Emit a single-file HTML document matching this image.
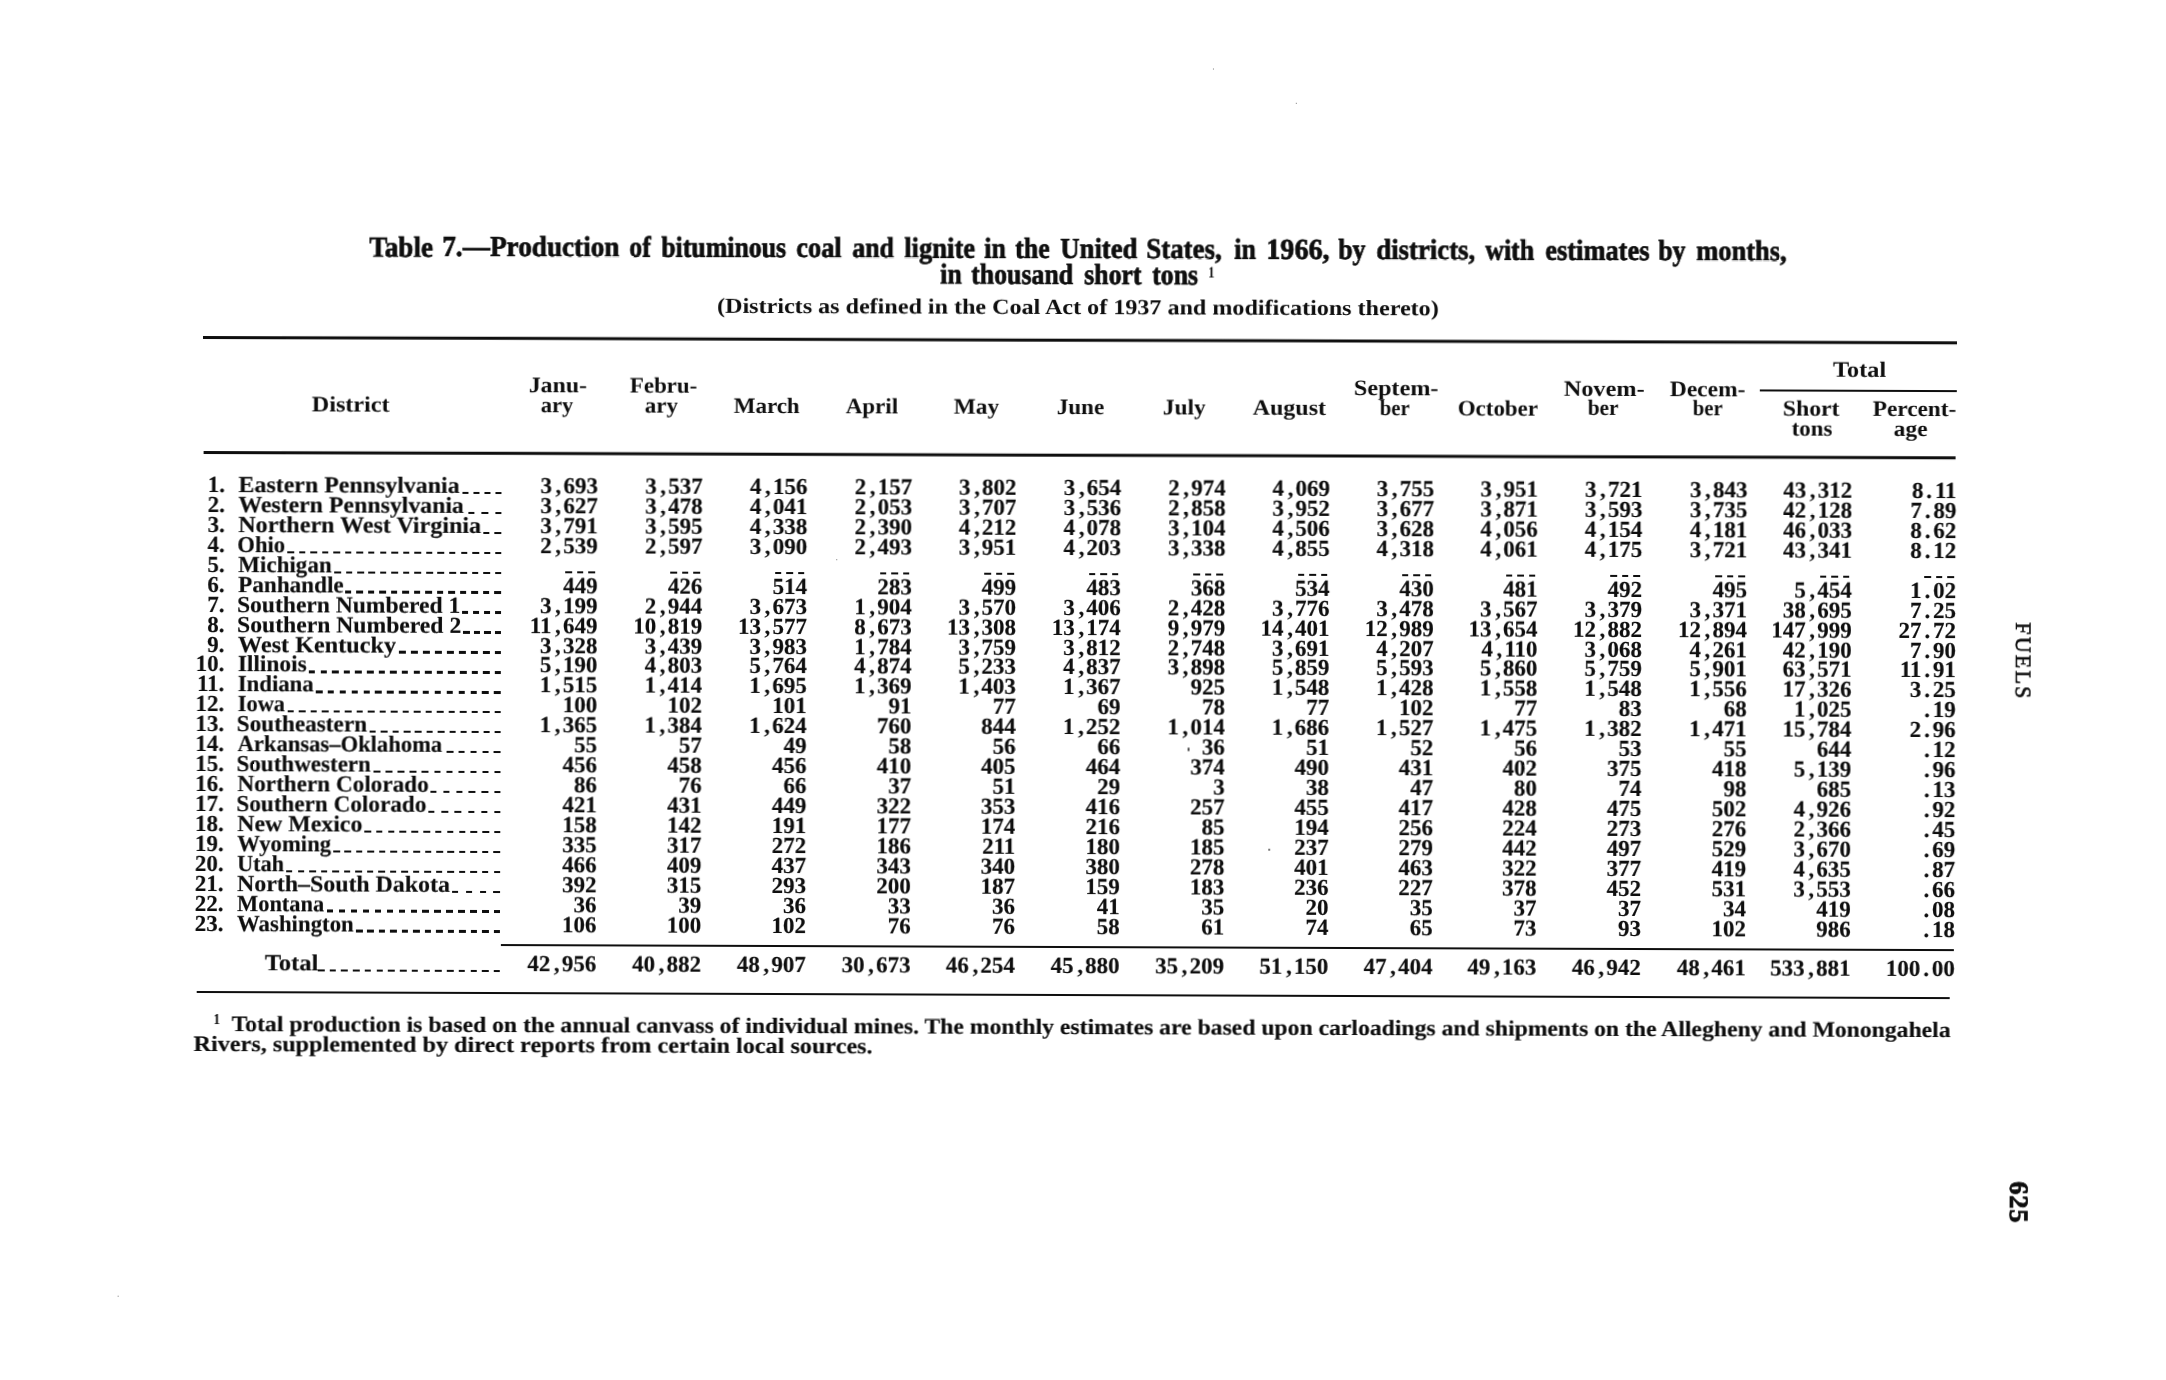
<!DOCTYPE html>
<html lang="en"><head><meta charset="utf-8">
<title>Table 7 - Production of bituminous coal and lignite, 1966</title>
<style>
html,body{margin:0;padding:0;background:#fff;}
body{width:2166px;height:1380px;overflow:hidden;position:relative;font-family:"Liberation Serif",serif;color:#0e0e0e;text-rendering:geometricPrecision;}
#pg{position:absolute;left:0;top:0;width:2166px;height:1380px;transform-origin:203px 338px;transform:rotate(0.2deg);will-change:transform;}
.t{position:absolute;white-space:pre;line-height:1;}
.t i{font-style:normal;display:inline-block;width:11.5px;letter-spacing:0;}
.t i.c{text-align:center;padding-left:1.4px;box-sizing:border-box;}
.t i.p{text-align:center;}
.t i.d{height:2.8px;width:6.5px;margin:0 2.50px;background:#0e0e0e;vertical-align:-.03em;}
.ttl{font-weight:700;-webkit-text-stroke:.7px #0e0e0e;}
.bd,.num{font-weight:700;-webkit-text-stroke:.15px #0e0e0e;}
.num{letter-spacing:0.000px;}
.hd{font-weight:700;}
.sub{-webkit-text-stroke:.75px #0e0e0e;}
.sup{}
.ft{font-weight:700;-webkit-text-stroke:.15px #0e0e0e;}
.r{position:absolute;background:#0e0e0e;}
.ld{position:absolute;height:2.4px;}
.v{position:absolute;white-space:pre;line-height:1;transform-origin:0 0;}
</style></head><body>
<div id="pg">
<div class="r" style="left:202.5px;top:336.40px;width:1753.5px;height:2.6px;transform-origin:0 50%;transform:rotate(-0.025deg)"></div>
<div class="r" style="left:203.6px;top:451.30px;width:1752.4px;height:2.6px;transform-origin:0 50%;transform:rotate(-0.025deg)"></div>
<div class="r" style="left:1760.0px;top:383.75px;width:197.0px;height:1.7px;transform-origin:0 50%;transform:rotate(-0.025deg)"></div>
<div class="r" style="left:503.0px;top:943.00px;width:1453.0px;height:2.0px"></div>
<div class="r" style="left:198.6px;top:990.50px;width:1753.0px;height:2.6px"></div>
<div class="ld" style="left:462.70px;top:490.75px;width:39.50px;background:repeating-linear-gradient(to right,#0e0e0e 0,#0e0e0e 6.5px,transparent 6.5px,transparent 11.000px)"></div>
<div class="ld" style="left:468.90px;top:510.69px;width:33.30px;background:repeating-linear-gradient(to right,#0e0e0e 0,#0e0e0e 6.5px,transparent 6.5px,transparent 13.400px)"></div>
<div class="ld" style="left:484.30px;top:530.63px;width:17.90px;background:repeating-linear-gradient(to right,#0e0e0e 0,#0e0e0e 6.5px,transparent 6.5px,transparent 11.400px)"></div>
<div class="ld" style="left:287.50px;top:550.57px;width:214.70px;background:repeating-linear-gradient(to right,#0e0e0e 0,#0e0e0e 6.5px,transparent 6.5px,transparent 11.567px)"></div>
<div class="ld" style="left:334.70px;top:570.51px;width:167.50px;background:repeating-linear-gradient(to right,#0e0e0e 0,#0e0e0e 6.5px,transparent 6.5px,transparent 11.500px)"></div>
<div class="ld" style="left:346.40px;top:590.45px;width:155.80px;background:repeating-linear-gradient(to right,#0e0e0e 0,#0e0e0e 6.5px,transparent 6.5px,transparent 11.485px)"></div>
<div class="ld" style="left:462.70px;top:610.39px;width:39.50px;background:repeating-linear-gradient(to right,#0e0e0e 0,#0e0e0e 6.5px,transparent 6.5px,transparent 11.000px)"></div>
<div class="ld" style="left:463.70px;top:630.33px;width:38.50px;background:repeating-linear-gradient(to right,#0e0e0e 0,#0e0e0e 6.5px,transparent 6.5px,transparent 10.667px)"></div>
<div class="ld" style="left:399.60px;top:650.27px;width:102.60px;background:repeating-linear-gradient(to right,#0e0e0e 0,#0e0e0e 6.5px,transparent 6.5px,transparent 12.012px)"></div>
<div class="ld" style="left:309.80px;top:670.21px;width:192.40px;background:repeating-linear-gradient(to right,#0e0e0e 0,#0e0e0e 6.5px,transparent 6.5px,transparent 11.619px)"></div>
<div class="ld" style="left:317.40px;top:690.15px;width:184.80px;background:repeating-linear-gradient(to right,#0e0e0e 0,#0e0e0e 6.5px,transparent 6.5px,transparent 11.887px)"></div>
<div class="ld" style="left:288.80px;top:710.09px;width:213.40px;background:repeating-linear-gradient(to right,#0e0e0e 0,#0e0e0e 6.5px,transparent 6.5px,transparent 11.494px)"></div>
<div class="ld" style="left:370.60px;top:730.03px;width:131.60px;background:repeating-linear-gradient(to right,#0e0e0e 0,#0e0e0e 6.5px,transparent 6.5px,transparent 11.373px)"></div>
<div class="ld" style="left:448.30px;top:749.97px;width:53.90px;background:repeating-linear-gradient(to right,#0e0e0e 0,#0e0e0e 6.5px,transparent 6.5px,transparent 11.850px)"></div>
<div class="ld" style="left:374.60px;top:769.91px;width:127.60px;background:repeating-linear-gradient(to right,#0e0e0e 0,#0e0e0e 6.5px,transparent 6.5px,transparent 12.110px)"></div>
<div class="ld" style="left:431.80px;top:789.85px;width:70.40px;background:repeating-linear-gradient(to right,#0e0e0e 0,#0e0e0e 6.5px,transparent 6.5px,transparent 12.780px)"></div>
<div class="ld" style="left:429.50px;top:809.79px;width:72.70px;background:repeating-linear-gradient(to right,#0e0e0e 0,#0e0e0e 6.5px,transparent 6.5px,transparent 13.240px)"></div>
<div class="ld" style="left:365.60px;top:829.73px;width:136.60px;background:repeating-linear-gradient(to right,#0e0e0e 0,#0e0e0e 6.5px,transparent 6.5px,transparent 11.827px)"></div>
<div class="ld" style="left:335.40px;top:849.67px;width:166.80px;background:repeating-linear-gradient(to right,#0e0e0e 0,#0e0e0e 6.5px,transparent 6.5px,transparent 11.450px)"></div>
<div class="ld" style="left:288.20px;top:869.61px;width:214.00px;background:repeating-linear-gradient(to right,#0e0e0e 0,#0e0e0e 6.5px,transparent 6.5px,transparent 11.528px)"></div>
<div class="ld" style="left:454.40px;top:889.55px;width:47.80px;background:repeating-linear-gradient(to right,#0e0e0e 0,#0e0e0e 6.5px,transparent 6.5px,transparent 13.767px)"></div>
<div class="ld" style="left:328.70px;top:909.49px;width:173.50px;background:repeating-linear-gradient(to right,#0e0e0e 0,#0e0e0e 6.5px,transparent 6.5px,transparent 11.929px)"></div>
<div class="ld" style="left:358.00px;top:929.43px;width:144.20px;background:repeating-linear-gradient(to right,#0e0e0e 0,#0e0e0e 6.5px,transparent 6.5px,transparent 11.475px)"></div>
<div class="ld" style="left:319.60px;top:969.10px;width:182.60px;background:repeating-linear-gradient(to right,#0e0e0e 0,#0e0e0e 6.5px,transparent 6.5px,transparent 11.740px)"></div>
<span class="t ttl" style="font-size:29.0px;top:232.53px;font-weight:700;left:369.30px;transform:scaleX(0.9332);transform-origin:0 0">Table</span>
<span class="t ttl" style="font-size:29.0px;top:232.49px;font-weight:700;left:442.16px;transform:scaleX(0.9390);transform-origin:0 0">7.—Production</span>
<span class="t ttl" style="font-size:29.0px;top:232.40px;font-weight:700;left:629.00px;transform:scaleX(0.8900);transform-origin:0 0">of</span>
<span class="t ttl" style="font-size:29.0px;top:232.38px;font-weight:700;left:660.83px;transform:scaleX(0.8900);transform-origin:0 0">bituminous</span>
<span class="t ttl" style="font-size:29.0px;top:232.32px;font-weight:700;left:795.50px;transform:scaleX(0.9103);transform-origin:0 0">coal</span>
<span class="t ttl" style="font-size:29.0px;top:232.29px;font-weight:700;left:852.30px;transform:scaleX(0.8900);transform-origin:0 0">and</span>
<span class="t ttl" style="font-size:29.0px;top:232.26px;font-weight:700;left:904.10px;transform:scaleX(0.9153);transform-origin:0 0">lignite</span>
<span class="t ttl" style="font-size:29.0px;top:232.22px;font-weight:700;left:983.69px;transform:scaleX(0.8900);transform-origin:0 0">in</span>
<span class="t ttl" style="font-size:29.0px;top:232.21px;font-weight:700;left:1014.84px;transform:scaleX(0.8900);transform-origin:0 0">the</span>
<span class="t ttl" style="font-size:29.0px;top:232.18px;font-weight:700;left:1059.70px;transform:scaleX(0.9216);transform-origin:0 0">United</span>
<span class="t ttl" style="font-size:29.0px;top:232.14px;font-weight:700;left:1145.87px;transform:scaleX(0.9263);transform-origin:0 0">States,</span>
<span class="t ttl" style="font-size:29.0px;top:232.10px;font-weight:700;left:1234.49px;transform:scaleX(0.8900);transform-origin:0 0">in</span>
<span class="t ttl" style="font-size:29.0px;top:232.08px;font-weight:700;left:1265.86px;transform:scaleX(0.9700);transform-origin:0 0">1966,</span>
<span class="t ttl" style="font-size:29.0px;top:232.04px;font-weight:700;left:1338.05px;transform:scaleX(0.8900);transform-origin:0 0">by</span>
<span class="t ttl" style="font-size:29.0px;top:232.03px;font-weight:700;left:1375.68px;transform:scaleX(0.9238);transform-origin:0 0">districts,</span>
<span class="t ttl" style="font-size:29.0px;top:231.97px;font-weight:700;left:1484.88px;transform:scaleX(0.8900);transform-origin:0 0">with</span>
<span class="t ttl" style="font-size:29.0px;top:231.94px;font-weight:700;left:1544.50px;transform:scaleX(0.9109);transform-origin:0 0">estimates</span>
<span class="t ttl" style="font-size:29.0px;top:231.88px;font-weight:700;left:1658.00px;transform:scaleX(0.8900);transform-origin:0 0">by</span>
<span class="t ttl" style="font-size:29.0px;top:231.87px;font-weight:700;left:1696.10px;transform:scaleX(0.9124);transform-origin:0 0">months,</span>
<span class="t ttl" style="font-size:29.0px;top:258.44px;font-weight:700;left:939.64px;transform:scaleX(0.8900);transform-origin:0 0">in</span>
<span class="t ttl" style="font-size:29.0px;top:258.43px;font-weight:700;left:970.87px;transform:scaleX(0.8900);transform-origin:0 0">thousand</span>
<span class="t ttl" style="font-size:29.0px;top:258.37px;font-weight:700;left:1083.57px;transform:scaleX(0.8900);transform-origin:0 0">short</span>
<span class="t ttl" style="font-size:29.0px;top:258.34px;font-weight:700;left:1152.18px;transform:scaleX(0.8900);transform-origin:0 0">tons</span>
<span class="t sup" style="font-size:16px;top:262.10px;font-weight:700;left:1207.81px;transform:scaleX(0.7857);transform-origin:0 0">1</span>
<span class="t hd" style="font-size:21.5px;top:293.64px;left:717.00px;transform:scaleX(1.1207);transform-origin:0 0">(Districts as defined in the Coal Act of 1937 and modifications thereto)</span>
<span class="t hd" style="font-size:22.0px;top:393.12px;left:311.60px;transform:scaleX(1.0975);transform-origin:0 0">District</span>
<span class="t hd" style="font-size:22.0px;top:373.21px;left:528.60px;transform:scaleX(1.0791);transform-origin:0 0">Janu-</span>
<span class="t hd" style="font-size:22.0px;top:393.01px;left:541.00px;transform:scaleX(1.0200);transform-origin:0 0">ary</span>
<span class="t hd" style="font-size:22.0px;top:373.16px;left:630.00px;transform:scaleX(1.0398);transform-origin:0 0">Febru-</span>
<span class="t hd" style="font-size:22.0px;top:392.95px;left:645.40px;transform:scaleX(1.0452);transform-origin:0 0">ary</span>
<span class="t hd" style="font-size:22.0px;top:392.91px;left:734.00px;transform:scaleX(1.0430);transform-origin:0 0">March</span>
<span class="t hd" style="font-size:22.0px;top:392.85px;left:846.20px;transform:scaleX(1.0440);transform-origin:0 0">April</span>
<span class="t hd" style="font-size:22.0px;top:392.80px;left:954.20px;transform:scaleX(1.0593);transform-origin:0 0">May</span>
<span class="t hd" style="font-size:22.0px;top:392.75px;left:1057.20px;transform:scaleX(1.0468);transform-origin:0 0">June</span>
<span class="t hd" style="font-size:22.0px;top:392.69px;left:1163.10px;transform:scaleX(1.0633);transform-origin:0 0">July</span>
<span class="t hd" style="font-size:22.0px;top:392.65px;left:1253.10px;transform:scaleX(1.0880);transform-origin:0 0">August</span>
<span class="t hd" style="font-size:22.0px;top:372.80px;left:1353.60px;transform:scaleX(1.0984);transform-origin:0 0">Septem-</span>
<span class="t hd" style="font-size:22.0px;top:392.59px;left:1380.00px;transform:scaleX(0.9375);transform-origin:0 0">ber</span>
<span class="t hd" style="font-size:22.0px;top:392.55px;left:1457.56px;transform:scaleX(1.0420);transform-origin:0 0">October</span>
<span class="t hd" style="font-size:22.0px;top:372.69px;left:1563.80px;transform:scaleX(1.1017);transform-origin:0 0">Novem-</span>
<span class="t hd" style="font-size:22.0px;top:392.48px;left:1587.90px;transform:scaleX(0.9656);transform-origin:0 0">ber</span>
<span class="t hd" style="font-size:22.0px;top:372.64px;left:1669.60px;transform:scaleX(1.0665);transform-origin:0 0">Decem-</span>
<span class="t hd" style="font-size:22.0px;top:392.43px;left:1693.00px;transform:scaleX(0.9375);transform-origin:0 0">ber</span>
<span class="t hd" style="font-size:22.0px;top:353.36px;left:1832.50px;transform:scaleX(1.1067);transform-origin:0 0">Total</span>
<span class="t hd" style="font-size:22.0px;top:392.38px;left:1782.92px;transform:scaleX(1.0797);transform-origin:0 0">Short</span>
<span class="t hd" style="font-size:22.0px;top:412.18px;left:1792.40px;transform:scaleX(1.0389);transform-origin:0 0">tons</span>
<span class="t hd" style="font-size:22.0px;top:392.34px;left:1872.70px;transform:scaleX(1.0564);transform-origin:0 0">Percent-</span>
<span class="t hd" style="font-size:22.0px;top:412.13px;left:1894.00px;transform:scaleX(1.0625);transform-origin:0 0">age</span>
<span class="t num" style="font-size:23.0px;top:472.99px;right:1940.40px">1.</span>
<span class="t bd" style="font-size:23.0px;top:472.99px;left:239.20px;transform:scaleX(1.0395);transform-origin:0 0">Eastern Pennsylvania</span>
<span class="t num" style="font-size:23.0px;top:472.99px;right:1567.60px">3<i class="c">,</i>693</span>
<span class="t num" style="font-size:23.0px;top:472.99px;right:1462.80px">3<i class="c">,</i>537</span>
<span class="t num" style="font-size:23.0px;top:472.99px;right:1358.10px">4<i class="c">,</i>156</span>
<span class="t num" style="font-size:23.0px;top:472.99px;right:1253.30px">2<i class="c">,</i>157</span>
<span class="t num" style="font-size:23.0px;top:472.99px;right:1148.90px">3<i class="c">,</i>802</span>
<span class="t num" style="font-size:23.0px;top:472.99px;right:1044.20px">3<i class="c">,</i>654</span>
<span class="t num" style="font-size:23.0px;top:472.99px;right:939.80px">2<i class="c">,</i>974</span>
<span class="t num" style="font-size:23.0px;top:472.99px;right:835.40px">4<i class="c">,</i>069</span>
<span class="t num" style="font-size:23.0px;top:472.99px;right:731.30px">3<i class="c">,</i>755</span>
<span class="t num" style="font-size:23.0px;top:472.99px;right:627.40px">3<i class="c">,</i>951</span>
<span class="t num" style="font-size:23.0px;top:472.99px;right:523.00px">3<i class="c">,</i>721</span>
<span class="t num" style="font-size:23.0px;top:472.99px;right:418.00px">3<i class="c">,</i>843</span>
<span class="t num" style="font-size:23.0px;top:472.99px;right:313.30px">43<i class="c">,</i>312</span>
<span class="t num" style="font-size:23.0px;top:472.99px;right:208.90px">8<i class="p">.</i>11</span>
<span class="t num" style="font-size:23.0px;top:492.93px;right:1940.40px">2.</span>
<span class="t bd" style="font-size:23.0px;top:492.93px;left:239.20px;transform:scaleX(1.0349);transform-origin:0 0">Western Pennsylvania</span>
<span class="t num" style="font-size:23.0px;top:492.93px;right:1567.60px">3<i class="c">,</i>627</span>
<span class="t num" style="font-size:23.0px;top:492.93px;right:1462.80px">3<i class="c">,</i>478</span>
<span class="t num" style="font-size:23.0px;top:492.93px;right:1358.10px">4<i class="c">,</i>041</span>
<span class="t num" style="font-size:23.0px;top:492.93px;right:1253.30px">2<i class="c">,</i>053</span>
<span class="t num" style="font-size:23.0px;top:492.93px;right:1148.90px">3<i class="c">,</i>707</span>
<span class="t num" style="font-size:23.0px;top:492.93px;right:1044.20px">3<i class="c">,</i>536</span>
<span class="t num" style="font-size:23.0px;top:492.93px;right:939.80px">2<i class="c">,</i>858</span>
<span class="t num" style="font-size:23.0px;top:492.93px;right:835.40px">3<i class="c">,</i>952</span>
<span class="t num" style="font-size:23.0px;top:492.93px;right:731.30px">3<i class="c">,</i>677</span>
<span class="t num" style="font-size:23.0px;top:492.93px;right:627.40px">3<i class="c">,</i>871</span>
<span class="t num" style="font-size:23.0px;top:492.93px;right:523.00px">3<i class="c">,</i>593</span>
<span class="t num" style="font-size:23.0px;top:492.93px;right:418.00px">3<i class="c">,</i>735</span>
<span class="t num" style="font-size:23.0px;top:492.93px;right:313.30px">42<i class="c">,</i>128</span>
<span class="t num" style="font-size:23.0px;top:492.93px;right:208.90px">7<i class="p">.</i>89</span>
<span class="t num" style="font-size:23.0px;top:512.87px;right:1940.40px">3.</span>
<span class="t bd" style="font-size:23.0px;top:512.87px;left:239.20px;transform:scaleX(1.0459);transform-origin:0 0">Northern West Virginia</span>
<span class="t num" style="font-size:23.0px;top:512.87px;right:1567.60px">3<i class="c">,</i>791</span>
<span class="t num" style="font-size:23.0px;top:512.87px;right:1462.80px">3<i class="c">,</i>595</span>
<span class="t num" style="font-size:23.0px;top:512.87px;right:1358.10px">4<i class="c">,</i>338</span>
<span class="t num" style="font-size:23.0px;top:512.87px;right:1253.30px">2<i class="c">,</i>390</span>
<span class="t num" style="font-size:23.0px;top:512.87px;right:1148.90px">4<i class="c">,</i>212</span>
<span class="t num" style="font-size:23.0px;top:512.87px;right:1044.20px">4<i class="c">,</i>078</span>
<span class="t num" style="font-size:23.0px;top:512.87px;right:939.80px">3<i class="c">,</i>104</span>
<span class="t num" style="font-size:23.0px;top:512.87px;right:835.40px">4<i class="c">,</i>506</span>
<span class="t num" style="font-size:23.0px;top:512.87px;right:731.30px">3<i class="c">,</i>628</span>
<span class="t num" style="font-size:23.0px;top:512.87px;right:627.40px">4<i class="c">,</i>056</span>
<span class="t num" style="font-size:23.0px;top:512.87px;right:523.00px">4<i class="c">,</i>154</span>
<span class="t num" style="font-size:23.0px;top:512.87px;right:418.00px">4<i class="c">,</i>181</span>
<span class="t num" style="font-size:23.0px;top:512.87px;right:313.30px">46<i class="c">,</i>033</span>
<span class="t num" style="font-size:23.0px;top:512.87px;right:208.90px">8<i class="p">.</i>62</span>
<span class="t num" style="font-size:23.0px;top:532.81px;right:1940.40px">4.</span>
<span class="t bd" style="font-size:23.0px;top:532.81px;left:238.21px;transform:scaleX(0.9879);transform-origin:0 0">Ohio</span>
<span class="t num" style="font-size:23.0px;top:532.81px;right:1567.60px">2<i class="c">,</i>539</span>
<span class="t num" style="font-size:23.0px;top:532.81px;right:1462.80px">2<i class="c">,</i>597</span>
<span class="t num" style="font-size:23.0px;top:532.81px;right:1358.10px">3<i class="c">,</i>090</span>
<span class="t num" style="font-size:23.0px;top:532.81px;right:1253.30px">2<i class="c">,</i>493</span>
<span class="t num" style="font-size:23.0px;top:532.81px;right:1148.90px">3<i class="c">,</i>951</span>
<span class="t num" style="font-size:23.0px;top:532.81px;right:1044.20px">4<i class="c">,</i>203</span>
<span class="t num" style="font-size:23.0px;top:532.81px;right:939.80px">3<i class="c">,</i>338</span>
<span class="t num" style="font-size:23.0px;top:532.81px;right:835.40px">4<i class="c">,</i>855</span>
<span class="t num" style="font-size:23.0px;top:532.81px;right:731.30px">4<i class="c">,</i>318</span>
<span class="t num" style="font-size:23.0px;top:532.81px;right:627.40px">4<i class="c">,</i>061</span>
<span class="t num" style="font-size:23.0px;top:532.81px;right:523.00px">4<i class="c">,</i>175</span>
<span class="t num" style="font-size:23.0px;top:532.81px;right:418.00px">3<i class="c">,</i>721</span>
<span class="t num" style="font-size:23.0px;top:532.81px;right:313.30px">43<i class="c">,</i>341</span>
<span class="t num" style="font-size:23.0px;top:532.81px;right:208.90px">8<i class="p">.</i>12</span>
<span class="t num" style="font-size:23.0px;top:552.75px;right:1940.40px">5.</span>
<span class="t bd" style="font-size:23.0px;top:552.75px;left:239.20px;transform:scaleX(1.0023);transform-origin:0 0">Michigan</span>
<span class="t num" style="font-size:23.0px;top:552.75px;right:1567.60px"><i class="d"></i><i class="d"></i><i class="d"></i></span>
<span class="t num" style="font-size:23.0px;top:552.75px;right:1462.80px"><i class="d"></i><i class="d"></i><i class="d"></i></span>
<span class="t num" style="font-size:23.0px;top:552.75px;right:1358.10px"><i class="d"></i><i class="d"></i><i class="d"></i></span>
<span class="t num" style="font-size:23.0px;top:552.75px;right:1253.30px"><i class="d"></i><i class="d"></i><i class="d"></i></span>
<span class="t num" style="font-size:23.0px;top:552.75px;right:1148.90px"><i class="d"></i><i class="d"></i><i class="d"></i></span>
<span class="t num" style="font-size:23.0px;top:552.75px;right:1044.20px"><i class="d"></i><i class="d"></i><i class="d"></i></span>
<span class="t num" style="font-size:23.0px;top:552.75px;right:939.80px"><i class="d"></i><i class="d"></i><i class="d"></i></span>
<span class="t num" style="font-size:23.0px;top:552.75px;right:835.40px"><i class="d"></i><i class="d"></i><i class="d"></i></span>
<span class="t num" style="font-size:23.0px;top:552.75px;right:731.30px"><i class="d"></i><i class="d"></i><i class="d"></i></span>
<span class="t num" style="font-size:23.0px;top:552.75px;right:627.40px"><i class="d"></i><i class="d"></i><i class="d"></i></span>
<span class="t num" style="font-size:23.0px;top:552.75px;right:523.00px"><i class="d"></i><i class="d"></i><i class="d"></i></span>
<span class="t num" style="font-size:23.0px;top:552.75px;right:418.00px"><i class="d"></i><i class="d"></i><i class="d"></i></span>
<span class="t num" style="font-size:23.0px;top:552.75px;right:313.30px"><i class="d"></i><i class="d"></i><i class="d"></i></span>
<span class="t num" style="font-size:23.0px;top:552.75px;right:208.90px"><i class="d"></i><i class="d"></i><i class="d"></i></span>
<span class="t num" style="font-size:23.0px;top:572.69px;right:1940.40px">6.</span>
<span class="t bd" style="font-size:23.0px;top:572.69px;left:239.20px;transform:scaleX(1.0076);transform-origin:0 0">Panhandle</span>
<span class="t num" style="font-size:23.0px;top:572.69px;right:1567.60px">449</span>
<span class="t num" style="font-size:23.0px;top:572.69px;right:1462.80px">426</span>
<span class="t num" style="font-size:23.0px;top:572.69px;right:1358.10px">514</span>
<span class="t num" style="font-size:23.0px;top:572.69px;right:1253.30px">283</span>
<span class="t num" style="font-size:23.0px;top:572.69px;right:1148.90px">499</span>
<span class="t num" style="font-size:23.0px;top:572.69px;right:1044.20px">483</span>
<span class="t num" style="font-size:23.0px;top:572.69px;right:939.80px">368</span>
<span class="t num" style="font-size:23.0px;top:572.69px;right:835.40px">534</span>
<span class="t num" style="font-size:23.0px;top:572.69px;right:731.30px">430</span>
<span class="t num" style="font-size:23.0px;top:572.69px;right:627.40px">481</span>
<span class="t num" style="font-size:23.0px;top:572.69px;right:523.00px">492</span>
<span class="t num" style="font-size:23.0px;top:572.69px;right:418.00px">495</span>
<span class="t num" style="font-size:23.0px;top:572.69px;right:313.30px">5<i class="c">,</i>454</span>
<span class="t num" style="font-size:23.0px;top:572.69px;right:208.90px">1<i class="p">.</i>02</span>
<span class="t num" style="font-size:23.0px;top:592.63px;right:1940.40px">7.</span>
<span class="t bd" style="font-size:23.0px;top:592.63px;left:238.18px;transform:scaleX(1.0236);transform-origin:0 0">Southern Numbered 1</span>
<span class="t num" style="font-size:23.0px;top:592.63px;right:1567.60px">3<i class="c">,</i>199</span>
<span class="t num" style="font-size:23.0px;top:592.63px;right:1462.80px">2<i class="c">,</i>944</span>
<span class="t num" style="font-size:23.0px;top:592.63px;right:1358.10px">3<i class="c">,</i>673</span>
<span class="t num" style="font-size:23.0px;top:592.63px;right:1253.30px">1<i class="c">,</i>904</span>
<span class="t num" style="font-size:23.0px;top:592.63px;right:1148.90px">3<i class="c">,</i>570</span>
<span class="t num" style="font-size:23.0px;top:592.63px;right:1044.20px">3<i class="c">,</i>406</span>
<span class="t num" style="font-size:23.0px;top:592.63px;right:939.80px">2<i class="c">,</i>428</span>
<span class="t num" style="font-size:23.0px;top:592.63px;right:835.40px">3<i class="c">,</i>776</span>
<span class="t num" style="font-size:23.0px;top:592.63px;right:731.30px">3<i class="c">,</i>478</span>
<span class="t num" style="font-size:23.0px;top:592.63px;right:627.40px">3<i class="c">,</i>567</span>
<span class="t num" style="font-size:23.0px;top:592.63px;right:523.00px">3<i class="c">,</i>379</span>
<span class="t num" style="font-size:23.0px;top:592.63px;right:418.00px">3<i class="c">,</i>371</span>
<span class="t num" style="font-size:23.0px;top:592.63px;right:313.30px">38<i class="c">,</i>695</span>
<span class="t num" style="font-size:23.0px;top:592.63px;right:208.90px">7<i class="p">.</i>25</span>
<span class="t num" style="font-size:23.0px;top:612.57px;right:1940.40px">8.</span>
<span class="t bd" style="font-size:23.0px;top:612.57px;left:238.17px;transform:scaleX(1.0282);transform-origin:0 0">Southern Numbered 2</span>
<span class="t num" style="font-size:23.0px;top:612.57px;right:1567.60px">11<i class="c">,</i>649</span>
<span class="t num" style="font-size:23.0px;top:612.57px;right:1462.80px">10<i class="c">,</i>819</span>
<span class="t num" style="font-size:23.0px;top:612.57px;right:1358.10px">13<i class="c">,</i>577</span>
<span class="t num" style="font-size:23.0px;top:612.57px;right:1253.30px">8<i class="c">,</i>673</span>
<span class="t num" style="font-size:23.0px;top:612.57px;right:1148.90px">13<i class="c">,</i>308</span>
<span class="t num" style="font-size:23.0px;top:612.57px;right:1044.20px">13<i class="c">,</i>174</span>
<span class="t num" style="font-size:23.0px;top:612.57px;right:939.80px">9<i class="c">,</i>979</span>
<span class="t num" style="font-size:23.0px;top:612.57px;right:835.40px">14<i class="c">,</i>401</span>
<span class="t num" style="font-size:23.0px;top:612.57px;right:731.30px">12<i class="c">,</i>989</span>
<span class="t num" style="font-size:23.0px;top:612.57px;right:627.40px">13<i class="c">,</i>654</span>
<span class="t num" style="font-size:23.0px;top:612.57px;right:523.00px">12<i class="c">,</i>882</span>
<span class="t num" style="font-size:23.0px;top:612.57px;right:418.00px">12<i class="c">,</i>894</span>
<span class="t num" style="font-size:23.0px;top:612.57px;right:313.30px">147<i class="c">,</i>999</span>
<span class="t num" style="font-size:23.0px;top:612.57px;right:208.90px">27<i class="p">.</i>72</span>
<span class="t num" style="font-size:23.0px;top:632.51px;right:1940.40px">9.</span>
<span class="t bd" style="font-size:23.0px;top:632.51px;left:239.20px;transform:scaleX(1.0528);transform-origin:0 0">West Kentucky</span>
<span class="t num" style="font-size:23.0px;top:632.51px;right:1567.60px">3<i class="c">,</i>328</span>
<span class="t num" style="font-size:23.0px;top:632.51px;right:1462.80px">3<i class="c">,</i>439</span>
<span class="t num" style="font-size:23.0px;top:632.51px;right:1358.10px">3<i class="c">,</i>983</span>
<span class="t num" style="font-size:23.0px;top:632.51px;right:1253.30px">1<i class="c">,</i>784</span>
<span class="t num" style="font-size:23.0px;top:632.51px;right:1148.90px">3<i class="c">,</i>759</span>
<span class="t num" style="font-size:23.0px;top:632.51px;right:1044.20px">3<i class="c">,</i>812</span>
<span class="t num" style="font-size:23.0px;top:632.51px;right:939.80px">2<i class="c">,</i>748</span>
<span class="t num" style="font-size:23.0px;top:632.51px;right:835.40px">3<i class="c">,</i>691</span>
<span class="t num" style="font-size:23.0px;top:632.51px;right:731.30px">4<i class="c">,</i>207</span>
<span class="t num" style="font-size:23.0px;top:632.51px;right:627.40px">4<i class="c">,</i>110</span>
<span class="t num" style="font-size:23.0px;top:632.51px;right:523.00px">3<i class="c">,</i>068</span>
<span class="t num" style="font-size:23.0px;top:632.51px;right:418.00px">4<i class="c">,</i>261</span>
<span class="t num" style="font-size:23.0px;top:632.51px;right:313.30px">42<i class="c">,</i>190</span>
<span class="t num" style="font-size:23.0px;top:632.51px;right:208.90px">7<i class="p">.</i>90</span>
<span class="t num" style="font-size:23.0px;top:652.45px;right:1940.40px">10.</span>
<span class="t bd" style="font-size:23.0px;top:652.45px;left:239.20px;transform:scaleX(1.0147);transform-origin:0 0">Illinois</span>
<span class="t num" style="font-size:23.0px;top:652.45px;right:1567.60px">5<i class="c">,</i>190</span>
<span class="t num" style="font-size:23.0px;top:652.45px;right:1462.80px">4<i class="c">,</i>803</span>
<span class="t num" style="font-size:23.0px;top:652.45px;right:1358.10px">5<i class="c">,</i>764</span>
<span class="t num" style="font-size:23.0px;top:652.45px;right:1253.30px">4<i class="c">,</i>874</span>
<span class="t num" style="font-size:23.0px;top:652.45px;right:1148.90px">5<i class="c">,</i>233</span>
<span class="t num" style="font-size:23.0px;top:652.45px;right:1044.20px">4<i class="c">,</i>837</span>
<span class="t num" style="font-size:23.0px;top:652.45px;right:939.80px">3<i class="c">,</i>898</span>
<span class="t num" style="font-size:23.0px;top:652.45px;right:835.40px">5<i class="c">,</i>859</span>
<span class="t num" style="font-size:23.0px;top:652.45px;right:731.30px">5<i class="c">,</i>593</span>
<span class="t num" style="font-size:23.0px;top:652.45px;right:627.40px">5<i class="c">,</i>860</span>
<span class="t num" style="font-size:23.0px;top:652.45px;right:523.00px">5<i class="c">,</i>759</span>
<span class="t num" style="font-size:23.0px;top:652.45px;right:418.00px">5<i class="c">,</i>901</span>
<span class="t num" style="font-size:23.0px;top:652.45px;right:313.30px">63<i class="c">,</i>571</span>
<span class="t num" style="font-size:23.0px;top:652.45px;right:208.90px">11<i class="p">.</i>91</span>
<span class="t num" style="font-size:23.0px;top:672.39px;right:1940.40px">11.</span>
<span class="t bd" style="font-size:23.0px;top:672.39px;left:239.20px;transform:scaleX(0.9894);transform-origin:0 0">Indiana</span>
<span class="t num" style="font-size:23.0px;top:672.39px;right:1567.60px">1<i class="c">,</i>515</span>
<span class="t num" style="font-size:23.0px;top:672.39px;right:1462.80px">1<i class="c">,</i>414</span>
<span class="t num" style="font-size:23.0px;top:672.39px;right:1358.10px">1<i class="c">,</i>695</span>
<span class="t num" style="font-size:23.0px;top:672.39px;right:1253.30px">1<i class="c">,</i>369</span>
<span class="t num" style="font-size:23.0px;top:672.39px;right:1148.90px">1<i class="c">,</i>403</span>
<span class="t num" style="font-size:23.0px;top:672.39px;right:1044.20px">1<i class="c">,</i>367</span>
<span class="t num" style="font-size:23.0px;top:672.39px;right:939.80px">925</span>
<span class="t num" style="font-size:23.0px;top:672.39px;right:835.40px">1<i class="c">,</i>548</span>
<span class="t num" style="font-size:23.0px;top:672.39px;right:731.30px">1<i class="c">,</i>428</span>
<span class="t num" style="font-size:23.0px;top:672.39px;right:627.40px">1<i class="c">,</i>558</span>
<span class="t num" style="font-size:23.0px;top:672.39px;right:523.00px">1<i class="c">,</i>548</span>
<span class="t num" style="font-size:23.0px;top:672.39px;right:418.00px">1<i class="c">,</i>556</span>
<span class="t num" style="font-size:23.0px;top:672.39px;right:313.30px">17<i class="c">,</i>326</span>
<span class="t num" style="font-size:23.0px;top:672.39px;right:208.90px">3<i class="p">.</i>25</span>
<span class="t num" style="font-size:23.0px;top:692.33px;right:1940.40px">12.</span>
<span class="t bd" style="font-size:23.0px;top:692.33px;left:239.20px;transform:scaleX(0.9743);transform-origin:0 0">Iowa</span>
<span class="t num" style="font-size:23.0px;top:692.33px;right:1567.60px">100</span>
<span class="t num" style="font-size:23.0px;top:692.33px;right:1462.80px">102</span>
<span class="t num" style="font-size:23.0px;top:692.33px;right:1358.10px">101</span>
<span class="t num" style="font-size:23.0px;top:692.33px;right:1253.30px">91</span>
<span class="t num" style="font-size:23.0px;top:692.33px;right:1148.90px">77</span>
<span class="t num" style="font-size:23.0px;top:692.33px;right:1044.20px">69</span>
<span class="t num" style="font-size:23.0px;top:692.33px;right:939.80px">78</span>
<span class="t num" style="font-size:23.0px;top:692.33px;right:835.40px">77</span>
<span class="t num" style="font-size:23.0px;top:692.33px;right:731.30px">102</span>
<span class="t num" style="font-size:23.0px;top:692.33px;right:627.40px">77</span>
<span class="t num" style="font-size:23.0px;top:692.33px;right:523.00px">83</span>
<span class="t num" style="font-size:23.0px;top:692.33px;right:418.00px">68</span>
<span class="t num" style="font-size:23.0px;top:692.33px;right:313.30px">1<i class="c">,</i>025</span>
<span class="t num" style="font-size:23.0px;top:692.33px;right:208.90px"><i class="p">.</i>19</span>
<span class="t num" style="font-size:23.0px;top:712.27px;right:1940.40px">13.</span>
<span class="t bd" style="font-size:23.0px;top:712.27px;left:238.19px;transform:scaleX(1.0104);transform-origin:0 0">Southeastern</span>
<span class="t num" style="font-size:23.0px;top:712.27px;right:1567.60px">1<i class="c">,</i>365</span>
<span class="t num" style="font-size:23.0px;top:712.27px;right:1462.80px">1<i class="c">,</i>384</span>
<span class="t num" style="font-size:23.0px;top:712.27px;right:1358.10px">1<i class="c">,</i>624</span>
<span class="t num" style="font-size:23.0px;top:712.27px;right:1253.30px">760</span>
<span class="t num" style="font-size:23.0px;top:712.27px;right:1148.90px">844</span>
<span class="t num" style="font-size:23.0px;top:712.27px;right:1044.20px">1<i class="c">,</i>252</span>
<span class="t num" style="font-size:23.0px;top:712.27px;right:939.80px">1<i class="c">,</i>014</span>
<span class="t num" style="font-size:23.0px;top:712.27px;right:835.40px">1<i class="c">,</i>686</span>
<span class="t num" style="font-size:23.0px;top:712.27px;right:731.30px">1<i class="c">,</i>527</span>
<span class="t num" style="font-size:23.0px;top:712.27px;right:627.40px">1<i class="c">,</i>475</span>
<span class="t num" style="font-size:23.0px;top:712.27px;right:523.00px">1<i class="c">,</i>382</span>
<span class="t num" style="font-size:23.0px;top:712.27px;right:418.00px">1<i class="c">,</i>471</span>
<span class="t num" style="font-size:23.0px;top:712.27px;right:313.30px">15<i class="c">,</i>784</span>
<span class="t num" style="font-size:23.0px;top:712.27px;right:208.90px">2<i class="p">.</i>96</span>
<span class="t num" style="font-size:23.0px;top:732.21px;right:1940.40px">14.</span>
<span class="t bd" style="font-size:23.0px;top:732.21px;left:239.20px;transform:scaleX(0.9822);transform-origin:0 0">Arkansas–Oklahoma</span>
<span class="t num" style="font-size:23.0px;top:732.21px;right:1567.60px">55</span>
<span class="t num" style="font-size:23.0px;top:732.21px;right:1462.80px">57</span>
<span class="t num" style="font-size:23.0px;top:732.21px;right:1358.10px">49</span>
<span class="t num" style="font-size:23.0px;top:732.21px;right:1253.30px">58</span>
<span class="t num" style="font-size:23.0px;top:732.21px;right:1148.90px">56</span>
<span class="t num" style="font-size:23.0px;top:732.21px;right:1044.20px">66</span>
<span class="t num" style="font-size:23.0px;top:732.21px;right:939.80px">36</span>
<span class="t num" style="font-size:23.0px;top:732.21px;right:835.40px">51</span>
<span class="t num" style="font-size:23.0px;top:732.21px;right:731.30px">52</span>
<span class="t num" style="font-size:23.0px;top:732.21px;right:627.40px">56</span>
<span class="t num" style="font-size:23.0px;top:732.21px;right:523.00px">53</span>
<span class="t num" style="font-size:23.0px;top:732.21px;right:418.00px">55</span>
<span class="t num" style="font-size:23.0px;top:732.21px;right:313.30px">644</span>
<span class="t num" style="font-size:23.0px;top:732.21px;right:208.90px"><i class="p">.</i>12</span>
<span class="t num" style="font-size:23.0px;top:752.15px;right:1940.40px">15.</span>
<span class="t bd" style="font-size:23.0px;top:752.15px;left:238.20px;transform:scaleX(1.0017);transform-origin:0 0">Southwestern</span>
<span class="t num" style="font-size:23.0px;top:752.15px;right:1567.60px">456</span>
<span class="t num" style="font-size:23.0px;top:752.15px;right:1462.80px">458</span>
<span class="t num" style="font-size:23.0px;top:752.15px;right:1358.10px">456</span>
<span class="t num" style="font-size:23.0px;top:752.15px;right:1253.30px">410</span>
<span class="t num" style="font-size:23.0px;top:752.15px;right:1148.90px">405</span>
<span class="t num" style="font-size:23.0px;top:752.15px;right:1044.20px">464</span>
<span class="t num" style="font-size:23.0px;top:752.15px;right:939.80px">374</span>
<span class="t num" style="font-size:23.0px;top:752.15px;right:835.40px">490</span>
<span class="t num" style="font-size:23.0px;top:752.15px;right:731.30px">431</span>
<span class="t num" style="font-size:23.0px;top:752.15px;right:627.40px">402</span>
<span class="t num" style="font-size:23.0px;top:752.15px;right:523.00px">375</span>
<span class="t num" style="font-size:23.0px;top:752.15px;right:418.00px">418</span>
<span class="t num" style="font-size:23.0px;top:752.15px;right:313.30px">5<i class="c">,</i>139</span>
<span class="t num" style="font-size:23.0px;top:752.15px;right:208.90px"><i class="p">.</i>96</span>
<span class="t num" style="font-size:23.0px;top:772.09px;right:1940.40px">16.</span>
<span class="t bd" style="font-size:23.0px;top:772.09px;left:239.20px;transform:scaleX(1.0083);transform-origin:0 0">Northern Colorado</span>
<span class="t num" style="font-size:23.0px;top:772.09px;right:1567.60px">86</span>
<span class="t num" style="font-size:23.0px;top:772.09px;right:1462.80px">76</span>
<span class="t num" style="font-size:23.0px;top:772.09px;right:1358.10px">66</span>
<span class="t num" style="font-size:23.0px;top:772.09px;right:1253.30px">37</span>
<span class="t num" style="font-size:23.0px;top:772.09px;right:1148.90px">51</span>
<span class="t num" style="font-size:23.0px;top:772.09px;right:1044.20px">29</span>
<span class="t num" style="font-size:23.0px;top:772.09px;right:939.80px">3</span>
<span class="t num" style="font-size:23.0px;top:772.09px;right:835.40px">38</span>
<span class="t num" style="font-size:23.0px;top:772.09px;right:731.30px">47</span>
<span class="t num" style="font-size:23.0px;top:772.09px;right:627.40px">80</span>
<span class="t num" style="font-size:23.0px;top:772.09px;right:523.00px">74</span>
<span class="t num" style="font-size:23.0px;top:772.09px;right:418.00px">98</span>
<span class="t num" style="font-size:23.0px;top:772.09px;right:313.30px">685</span>
<span class="t num" style="font-size:23.0px;top:772.09px;right:208.90px"><i class="p">.</i>13</span>
<span class="t num" style="font-size:23.0px;top:792.03px;right:1940.40px">17.</span>
<span class="t bd" style="font-size:23.0px;top:792.03px;left:238.19px;transform:scaleX(1.0081);transform-origin:0 0">Southern Colorado</span>
<span class="t num" style="font-size:23.0px;top:792.03px;right:1567.60px">421</span>
<span class="t num" style="font-size:23.0px;top:792.03px;right:1462.80px">431</span>
<span class="t num" style="font-size:23.0px;top:792.03px;right:1358.10px">449</span>
<span class="t num" style="font-size:23.0px;top:792.03px;right:1253.30px">322</span>
<span class="t num" style="font-size:23.0px;top:792.03px;right:1148.90px">353</span>
<span class="t num" style="font-size:23.0px;top:792.03px;right:1044.20px">416</span>
<span class="t num" style="font-size:23.0px;top:792.03px;right:939.80px">257</span>
<span class="t num" style="font-size:23.0px;top:792.03px;right:835.40px">455</span>
<span class="t num" style="font-size:23.0px;top:792.03px;right:731.30px">417</span>
<span class="t num" style="font-size:23.0px;top:792.03px;right:627.40px">428</span>
<span class="t num" style="font-size:23.0px;top:792.03px;right:523.00px">475</span>
<span class="t num" style="font-size:23.0px;top:792.03px;right:418.00px">502</span>
<span class="t num" style="font-size:23.0px;top:792.03px;right:313.30px">4<i class="c">,</i>926</span>
<span class="t num" style="font-size:23.0px;top:792.03px;right:208.90px"><i class="p">.</i>92</span>
<span class="t num" style="font-size:23.0px;top:811.97px;right:1940.40px">18.</span>
<span class="t bd" style="font-size:23.0px;top:811.97px;left:239.20px;transform:scaleX(1.0367);transform-origin:0 0">New Mexico</span>
<span class="t num" style="font-size:23.0px;top:811.97px;right:1567.60px">158</span>
<span class="t num" style="font-size:23.0px;top:811.97px;right:1462.80px">142</span>
<span class="t num" style="font-size:23.0px;top:811.97px;right:1358.10px">191</span>
<span class="t num" style="font-size:23.0px;top:811.97px;right:1253.30px">177</span>
<span class="t num" style="font-size:23.0px;top:811.97px;right:1148.90px">174</span>
<span class="t num" style="font-size:23.0px;top:811.97px;right:1044.20px">216</span>
<span class="t num" style="font-size:23.0px;top:811.97px;right:939.80px">85</span>
<span class="t num" style="font-size:23.0px;top:811.97px;right:835.40px">194</span>
<span class="t num" style="font-size:23.0px;top:811.97px;right:731.30px">256</span>
<span class="t num" style="font-size:23.0px;top:811.97px;right:627.40px">224</span>
<span class="t num" style="font-size:23.0px;top:811.97px;right:523.00px">273</span>
<span class="t num" style="font-size:23.0px;top:811.97px;right:418.00px">276</span>
<span class="t num" style="font-size:23.0px;top:811.97px;right:313.30px">2<i class="c">,</i>366</span>
<span class="t num" style="font-size:23.0px;top:811.97px;right:208.90px"><i class="p">.</i>45</span>
<span class="t num" style="font-size:23.0px;top:831.91px;right:1940.40px">19.</span>
<span class="t bd" style="font-size:23.0px;top:831.91px;left:239.20px;transform:scaleX(0.9886);transform-origin:0 0">Wyoming</span>
<span class="t num" style="font-size:23.0px;top:831.91px;right:1567.60px">335</span>
<span class="t num" style="font-size:23.0px;top:831.91px;right:1462.80px">317</span>
<span class="t num" style="font-size:23.0px;top:831.91px;right:1358.10px">272</span>
<span class="t num" style="font-size:23.0px;top:831.91px;right:1253.30px">186</span>
<span class="t num" style="font-size:23.0px;top:831.91px;right:1148.90px">211</span>
<span class="t num" style="font-size:23.0px;top:831.91px;right:1044.20px">180</span>
<span class="t num" style="font-size:23.0px;top:831.91px;right:939.80px">185</span>
<span class="t num" style="font-size:23.0px;top:831.91px;right:835.40px">237</span>
<span class="t num" style="font-size:23.0px;top:831.91px;right:731.30px">279</span>
<span class="t num" style="font-size:23.0px;top:831.91px;right:627.40px">442</span>
<span class="t num" style="font-size:23.0px;top:831.91px;right:523.00px">497</span>
<span class="t num" style="font-size:23.0px;top:831.91px;right:418.00px">529</span>
<span class="t num" style="font-size:23.0px;top:831.91px;right:313.30px">3<i class="c">,</i>670</span>
<span class="t num" style="font-size:23.0px;top:831.91px;right:208.90px"><i class="p">.</i>69</span>
<span class="t num" style="font-size:23.0px;top:851.85px;right:1940.40px">20.</span>
<span class="t bd" style="font-size:23.0px;top:851.85px;left:239.20px;transform:scaleX(0.9678);transform-origin:0 0">Utah</span>
<span class="t num" style="font-size:23.0px;top:851.85px;right:1567.60px">466</span>
<span class="t num" style="font-size:23.0px;top:851.85px;right:1462.80px">409</span>
<span class="t num" style="font-size:23.0px;top:851.85px;right:1358.10px">437</span>
<span class="t num" style="font-size:23.0px;top:851.85px;right:1253.30px">343</span>
<span class="t num" style="font-size:23.0px;top:851.85px;right:1148.90px">340</span>
<span class="t num" style="font-size:23.0px;top:851.85px;right:1044.20px">380</span>
<span class="t num" style="font-size:23.0px;top:851.85px;right:939.80px">278</span>
<span class="t num" style="font-size:23.0px;top:851.85px;right:835.40px">401</span>
<span class="t num" style="font-size:23.0px;top:851.85px;right:731.30px">463</span>
<span class="t num" style="font-size:23.0px;top:851.85px;right:627.40px">322</span>
<span class="t num" style="font-size:23.0px;top:851.85px;right:523.00px">377</span>
<span class="t num" style="font-size:23.0px;top:851.85px;right:418.00px">419</span>
<span class="t num" style="font-size:23.0px;top:851.85px;right:313.30px">4<i class="c">,</i>635</span>
<span class="t num" style="font-size:23.0px;top:851.85px;right:208.90px"><i class="p">.</i>87</span>
<span class="t num" style="font-size:23.0px;top:871.79px;right:1940.40px">21.</span>
<span class="t bd" style="font-size:23.0px;top:871.79px;left:239.20px;transform:scaleX(1.0379);transform-origin:0 0">North–South Dakota</span>
<span class="t num" style="font-size:23.0px;top:871.79px;right:1567.60px">392</span>
<span class="t num" style="font-size:23.0px;top:871.79px;right:1462.80px">315</span>
<span class="t num" style="font-size:23.0px;top:871.79px;right:1358.10px">293</span>
<span class="t num" style="font-size:23.0px;top:871.79px;right:1253.30px">200</span>
<span class="t num" style="font-size:23.0px;top:871.79px;right:1148.90px">187</span>
<span class="t num" style="font-size:23.0px;top:871.79px;right:1044.20px">159</span>
<span class="t num" style="font-size:23.0px;top:871.79px;right:939.80px">183</span>
<span class="t num" style="font-size:23.0px;top:871.79px;right:835.40px">236</span>
<span class="t num" style="font-size:23.0px;top:871.79px;right:731.30px">227</span>
<span class="t num" style="font-size:23.0px;top:871.79px;right:627.40px">378</span>
<span class="t num" style="font-size:23.0px;top:871.79px;right:523.00px">452</span>
<span class="t num" style="font-size:23.0px;top:871.79px;right:418.00px">531</span>
<span class="t num" style="font-size:23.0px;top:871.79px;right:313.30px">3<i class="c">,</i>553</span>
<span class="t num" style="font-size:23.0px;top:871.79px;right:208.90px"><i class="p">.</i>66</span>
<span class="t num" style="font-size:23.0px;top:891.73px;right:1940.40px">22.</span>
<span class="t bd" style="font-size:23.0px;top:891.73px;left:239.20px;transform:scaleX(0.9750);transform-origin:0 0">Montana</span>
<span class="t num" style="font-size:23.0px;top:891.73px;right:1567.60px">36</span>
<span class="t num" style="font-size:23.0px;top:891.73px;right:1462.80px">39</span>
<span class="t num" style="font-size:23.0px;top:891.73px;right:1358.10px">36</span>
<span class="t num" style="font-size:23.0px;top:891.73px;right:1253.30px">33</span>
<span class="t num" style="font-size:23.0px;top:891.73px;right:1148.90px">36</span>
<span class="t num" style="font-size:23.0px;top:891.73px;right:1044.20px">41</span>
<span class="t num" style="font-size:23.0px;top:891.73px;right:939.80px">35</span>
<span class="t num" style="font-size:23.0px;top:891.73px;right:835.40px">20</span>
<span class="t num" style="font-size:23.0px;top:891.73px;right:731.30px">35</span>
<span class="t num" style="font-size:23.0px;top:891.73px;right:627.40px">37</span>
<span class="t num" style="font-size:23.0px;top:891.73px;right:523.00px">37</span>
<span class="t num" style="font-size:23.0px;top:891.73px;right:418.00px">34</span>
<span class="t num" style="font-size:23.0px;top:891.73px;right:313.30px">419</span>
<span class="t num" style="font-size:23.0px;top:891.73px;right:208.90px"><i class="p">.</i>08</span>
<span class="t num" style="font-size:23.0px;top:911.67px;right:1940.40px">23.</span>
<span class="t bd" style="font-size:23.0px;top:911.67px;left:239.20px;transform:scaleX(0.9931);transform-origin:0 0">Washington</span>
<span class="t num" style="font-size:23.0px;top:911.67px;right:1567.60px">106</span>
<span class="t num" style="font-size:23.0px;top:911.67px;right:1462.80px">100</span>
<span class="t num" style="font-size:23.0px;top:911.67px;right:1358.10px">102</span>
<span class="t num" style="font-size:23.0px;top:911.67px;right:1253.30px">76</span>
<span class="t num" style="font-size:23.0px;top:911.67px;right:1148.90px">76</span>
<span class="t num" style="font-size:23.0px;top:911.67px;right:1044.20px">58</span>
<span class="t num" style="font-size:23.0px;top:911.67px;right:939.80px">61</span>
<span class="t num" style="font-size:23.0px;top:911.67px;right:835.40px">74</span>
<span class="t num" style="font-size:23.0px;top:911.67px;right:731.30px">65</span>
<span class="t num" style="font-size:23.0px;top:911.67px;right:627.40px">73</span>
<span class="t num" style="font-size:23.0px;top:911.67px;right:523.00px">93</span>
<span class="t num" style="font-size:23.0px;top:911.67px;right:418.00px">102</span>
<span class="t num" style="font-size:23.0px;top:911.67px;right:313.30px">986</span>
<span class="t num" style="font-size:23.0px;top:911.67px;right:208.90px"><i class="p">.</i>18</span>
<span class="t bd" style="font-size:23.0px;top:951.34px;left:266.50px;transform:scaleX(1.0624);transform-origin:0 0">Total</span>
<span class="t num" style="font-size:23.0px;top:951.34px;right:1567.60px">42<i class="c">,</i>956</span>
<span class="t num" style="font-size:23.0px;top:951.34px;right:1462.80px">40<i class="c">,</i>882</span>
<span class="t num" style="font-size:23.0px;top:951.34px;right:1358.10px">48<i class="c">,</i>907</span>
<span class="t num" style="font-size:23.0px;top:951.34px;right:1253.30px">30<i class="c">,</i>673</span>
<span class="t num" style="font-size:23.0px;top:951.34px;right:1148.90px">46<i class="c">,</i>254</span>
<span class="t num" style="font-size:23.0px;top:951.34px;right:1044.20px">45<i class="c">,</i>880</span>
<span class="t num" style="font-size:23.0px;top:951.34px;right:939.80px">35<i class="c">,</i>209</span>
<span class="t num" style="font-size:23.0px;top:951.34px;right:835.40px">51<i class="c">,</i>150</span>
<span class="t num" style="font-size:23.0px;top:951.34px;right:731.30px">47<i class="c">,</i>404</span>
<span class="t num" style="font-size:23.0px;top:951.34px;right:627.40px">49<i class="c">,</i>163</span>
<span class="t num" style="font-size:23.0px;top:951.34px;right:523.00px">46<i class="c">,</i>942</span>
<span class="t num" style="font-size:23.0px;top:951.34px;right:418.00px">48<i class="c">,</i>461</span>
<span class="t num" style="font-size:23.0px;top:951.34px;right:313.30px">533<i class="c">,</i>881</span>
<span class="t num" style="font-size:23.0px;top:951.34px;right:208.90px">100<i class="p">.</i>00</span>
<span class="t ft" style="font-size:15px;top:1012.84px;left:216.17px;transform:scaleX(0.8333);transform-origin:0 0">1</span>
<span class="t ft" style="font-size:22.0px;top:1012.78px;left:234.00px;transform:scaleX(1.0760);transform-origin:0 0">Total production is based on the annual canvass of individual mines. The monthly estimates are based upon carloadings and shipments on the Allegheny and Monongahela</span>
<span class="t ft" style="font-size:22.0px;top:1032.58px;left:195.80px;transform:scaleX(1.0989);transform-origin:0 0">Rivers, supplemented by direct reports from certain local sources.</span>
<span class="v" style="left:2035.3px;top:616.2px;font-size:22px;letter-spacing:2.2px;-webkit-text-stroke:.6px #0e0e0e;transform:rotate(90deg)">FUELS</span>
<span class="v" style="left:2034.8px;top:1175.4px;font-size:26.5px;font-weight:700;letter-spacing:.8px;-webkit-text-stroke:.8px #0e0e0e;transform:rotate(90deg)">625</span>
<div class="r" style="left:1188.5px;top:744.0px;width:2.6px;height:3.6px;border-radius:50%;opacity:.75"></div>
<div class="r" style="left:1269.5px;top:845.0px;width:2.0px;height:2.0px;border-radius:50%;opacity:.75"></div>
<div class="r" style="left:836.5px;top:556.5px;width:1.6px;height:1.6px;border-radius:50%;opacity:.75"></div>
<div class="r" style="left:1211.5px;top:65.0px;width:1.4px;height:1.4px;border-radius:50%;opacity:.75"></div>
<div class="r" style="left:1295.0px;top:99.0px;width:1.4px;height:1.4px;border-radius:50%;opacity:.75"></div>
<div class="r" style="left:120.5px;top:1295.5px;width:1.6px;height:1.6px;border-radius:50%;opacity:.75"></div>
</div></body></html>
